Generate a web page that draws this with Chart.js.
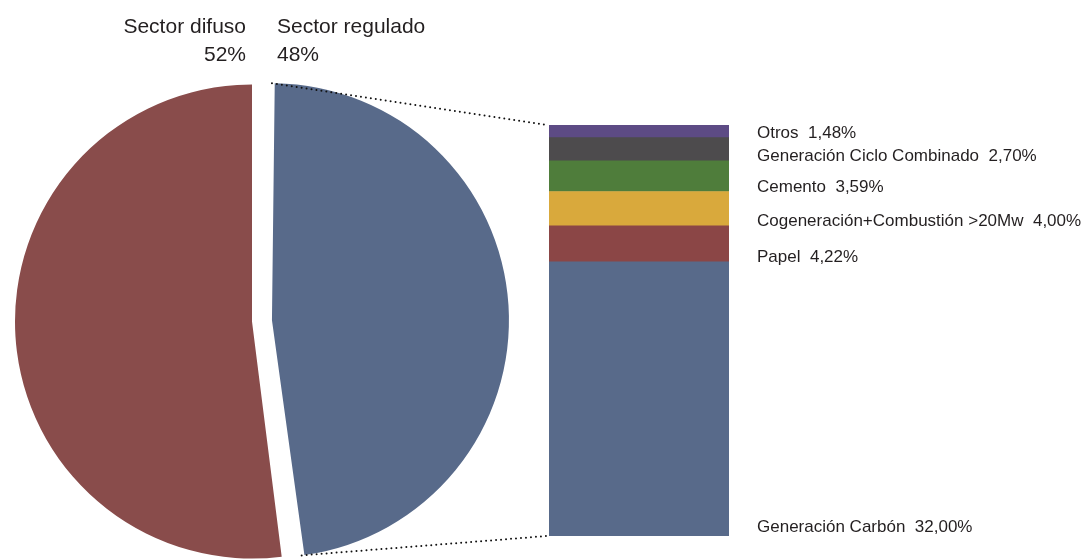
<!DOCTYPE html>
<html>
<head>
<meta charset="utf-8">
<script src="https://cdn.jsdelivr.net/npm/chart.js@4"></script>
<style>
  html, body { margin: 0; padding: 0; background: #fff; }
  #wrap { position: relative; width: 1089px; height: 559px; }
  #wrap canvas { position: absolute; left: 0; top: 0; }
</style>
</head>
<body>
<div id="wrap">
  <canvas id="pieChart" width="1089" height="559"></canvas>
  <canvas id="barChart" width="1089" height="559"></canvas>
</div>
<script>
// --- data ---
const pieLabels = ['Sector regulado', 'Sector difuso'];
const pieValues = [48, 52];
const pieColors = ['#586a8a', '#894c4b'];

const barLabels = ['Generación Carbón', 'Papel', 'Cogeneración+Combustión >20Mw', 'Cemento', 'Generación Ciclo Combinado', 'Otros'];
const barValues = [32.00, 4.22, 4.00, 3.59, 2.70, 1.48];
const barColors = ['#586a8a', '#8b4646', '#d9a93c', '#4f7d3b', '#4d4b4d', '#5d4b85'];

const textColor = '#231f20';
const fmt = v => v.toFixed(2).replace('.', ',') + '%';

// the exploded slice keeps the same radius as the others
const keepRadius = {
    id: 'keepRadius',
    afterDatasetsUpdate(chart) {
        chart.getDatasetMeta(0).data.forEach(arc => {
            const off = (arc.options.offset || 0) / 4;
            const fix = 1 - Math.sin(Math.min(Math.PI, arc.circumference));
            arc.outerRadius -= off * fix;
        });
    }
};

const pieTitles = {
    id: 'pieTitles',
    afterDraw(chart) {
        const ctx = chart.ctx;
        const arcs = chart.getDatasetMeta(0).data;
        const cx = arcs[0].x;
        const top = arcs[0].y - chart.options.radius;
        ctx.save();
        ctx.fillStyle = textColor;
        ctx.font = '21px "Liberation Sans", Arial, sans-serif';
        ctx.textBaseline = 'alphabetic';
        // regulado on the right, difuso on the left
        ctx.textAlign = 'left';
        ctx.fillText(pieLabels[0], cx + 25, top - 52);
        ctx.fillText(pieValues[0] + '%', cx + 25, top - 24);
        ctx.textAlign = 'right';
        ctx.fillText(pieLabels[1], cx - 6, top - 52);
        ctx.fillText(pieValues[1] + '%', cx - 6, top - 24);
        ctx.restore();
    }
};

const pieChart = new Chart(document.getElementById('pieChart'), {
    type: 'pie',
    data: {
        labels: pieLabels,
        datasets: [{
            data: pieValues,
            backgroundColor: pieColors,
            offset: [80, 0],
            borderWidth: 0,
            hoverOffset: 0
        }]
    },
    options: {
        responsive: false,
        animation: false,
        events: [],
        radius: 237,
        layout: { padding: { left: 0, right: 585, top: 84, bottom: 0 } },
        plugins: { legend: { display: false }, tooltip: { enabled: false } }
    },
    plugins: [keepRadius, pieTitles]
});

const barSide = {
    id: 'barSide',
    afterDatasetsDraw(chart) {
        const ctx = chart.ctx;
        const area = chart.chartArea;
        ctx.save();
        ctx.fillStyle = textColor;
        ctx.font = '17px "Liberation Sans", Arial, sans-serif';
        ctx.textAlign = 'left';
        ctx.textBaseline = 'alphabetic';
        chart.data.datasets.forEach((ds, i) => {
            const bar = chart.getDatasetMeta(i).data[0];
            const y = i === 0 ? bar.base - 4 : bar.base;
            ctx.fillText(ds.label + '  ' + fmt(ds.data[0]), area.right + 28, y);
        });

        // dotted lines from the exploded slice to the bar
        const arc = pieChart.getDatasetMeta(0).data[0];
        const off = (arc.options.offset || 0) / 4;
        const fix = 1 - Math.sin(Math.min(Math.PI, arc.circumference));
        const r = arc.outerRadius + off * fix;
        const half = (arc.startAngle + arc.endAngle) / 2;
        const ox = arc.x + Math.cos(half) * off;
        const oy = arc.y + Math.sin(half) * off;
        const p1 = [ox + Math.cos(arc.startAngle) * r, oy + Math.sin(arc.startAngle) * r];
        const p2 = [ox + Math.cos(arc.endAngle) * r, oy + Math.sin(arc.endAngle) * r];

        ctx.strokeStyle = '#111';
        ctx.lineWidth = 2;
        ctx.lineCap = 'round';
        ctx.setLineDash([0, 5]);
        ctx.beginPath();
        ctx.moveTo(p1[0], p1[1]);
        ctx.lineTo(area.left - 2, area.top);
        ctx.moveTo(p2[0], p2[1]);
        ctx.lineTo(area.left - 2, area.bottom);
        ctx.stroke();
        ctx.restore();
    }
};

const barTotal = barValues.reduce((a, b) => a + b, 0);

new Chart(document.getElementById('barChart'), {
    type: 'bar',
    data: {
        labels: [''],
        datasets: barLabels.map((label, i) => ({
            label: label,
            data: [barValues[i]],
            backgroundColor: barColors[i],
            borderWidth: 0,
            barPercentage: 1,
            categoryPercentage: 1
        }))
    },
    options: {
        responsive: false,
        animation: false,
        events: [],
        layout: { padding: { left: 549, right: 360, top: 125, bottom: 23 } },
        scales: {
            x: { stacked: true, display: false },
            y: { stacked: true, display: false, min: 0, max: barTotal }
        },
        plugins: { legend: { display: false }, tooltip: { enabled: false } }
    },
    plugins: [barSide]
});
</script>
</body>
</html>
